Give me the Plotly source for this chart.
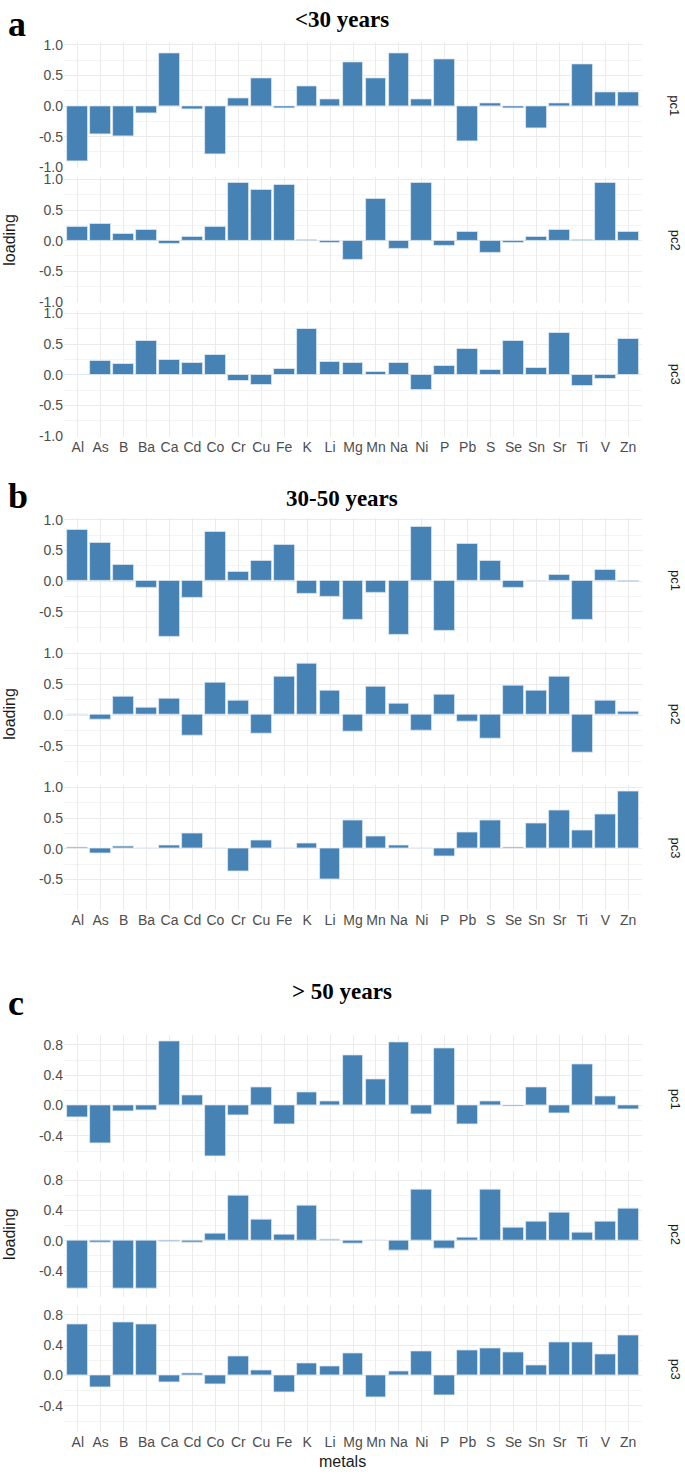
import plotly.graph_objects as go

W, H = 685, 1479

metals = ["Al", "As", "B", "Ba", "Ca", "Cd", "Co", "Cr", "Cu", "Fe", "K", "Li", "Mg",
          "Mn", "Na", "Ni", "P", "Pb", "S", "Se", "Sn", "Sr", "Ti", "V", "Zn"]

# Panel a: <30 years
a_pc1 = [-0.91, -0.46, -0.49, -0.11, 0.87, -0.05, -0.79, 0.12, 0.45, -0.03, 0.33, 0.11, 0.72,
         0.46, 0.87, 0.11, 0.76, -0.58, 0.04, -0.04, -0.36, 0.04, 0.69, 0.22, 0.23]
a_pc2 = [0.23, 0.27, 0.11, 0.18, -0.06, 0.06, 0.23, 0.95, 0.83, 0.91, 0.02, -0.03, -0.32,
         0.69, -0.13, 0.94, -0.09, 0.14, -0.20, -0.03, 0.07, 0.18, 0.02, 0.94, 0.14]
a_pc3 = [0.0, 0.23, 0.17, 0.56, 0.24, 0.20, 0.33, -0.10, -0.16, 0.09, 0.75, 0.21, 0.19,
         0.04, 0.19, -0.24, 0.14, 0.42, 0.08, 0.55, 0.11, 0.68, -0.18, -0.07, 0.59]

# Panel b: 30-50 years
b_pc1 = [0.84, 0.62, 0.26, -0.10, -0.90, -0.27, 0.81, 0.16, 0.34, 0.60, -0.20, -0.25, -0.62,
         -0.19, -0.87, 0.89, -0.81, 0.61, 0.33, -0.10, 0.015, 0.10, -0.62, 0.19, -0.005]
b_pc2 = [0.0, -0.08, 0.30, 0.12, 0.27, -0.34, 0.52, 0.23, -0.30, 0.63, 0.84, 0.39, -0.27,
         0.46, 0.19, -0.25, 0.34, -0.11, -0.38, 0.48, 0.39, 0.62, -0.61, 0.23, 0.06]
b_pc3 = [0.02, -0.08, 0.04, 0.0, 0.05, 0.25, 0.0, -0.37, 0.13, 0.005, 0.09, -0.49, 0.46,
         0.20, 0.06, 0.005, -0.13, 0.27, 0.46, 0.03, 0.42, 0.62, 0.30, 0.56, 0.94]

# Panel c: > 50 years
c_pc1 = [-0.16, -0.50, -0.075, -0.06, 0.85, 0.14, -0.67, -0.13, 0.24, -0.25, 0.18, 0.05, 0.66,
         0.34, 0.83, -0.11, 0.76, -0.245, 0.05, -0.01, 0.24, -0.10, 0.55, 0.12, -0.05]
c_pc2 = [-0.63, -0.03, -0.625, -0.63, -0.01, -0.03, 0.10, 0.60, 0.28, 0.08, 0.47, 0.02, -0.04,
         0.0, -0.13, 0.67, -0.10, 0.04, 0.67, 0.18, 0.25, 0.37, 0.11, 0.26, 0.42]
c_pc3 = [0.67, -0.15, 0.70, 0.68, -0.09, 0.025, -0.11, 0.26, 0.075, -0.22, 0.16, 0.12, 0.29,
         -0.29, 0.05, 0.32, -0.26, 0.335, 0.36, 0.31, 0.13, 0.435, 0.435, 0.28, 0.53]

titles = ["<30 years", "30-50 years", "> 50 years"]
letters = ["a", "b", "c"]
pcs = ["pc1", "pc2", "pc3"]

# layout geometry (pixel positions)
panels = [
    dict(vals=[a_pc1, a_pc2, a_pc3], zeros=[101, 236.7, 372], unit=61.7,
         rng=[-1.0135, 1.0435], ticks=[-1.0, -0.5, 0.0, 0.5, 1.0],
         minor=[-0.75, -0.25, 0.25, 0.75], title_y=14, letter_y=18),
    dict(vals=[b_pc1, b_pc2, b_pc3], zeros=[580.3, 715.3, 850.3], unit=62.0,
         rng=[-0.992, 1.032], ticks=[-0.5, 0.0, 0.5, 1.0],
         minor=[-0.75, -0.25, 0.25, 0.75], title_y=497, letter_y=494),
    dict(vals=[c_pc1, c_pc2, c_pc3], zeros=[1109.3, 1245.7, 1381.7], unit=76.5,
         rng=[-0.746, 0.926], ticks=[-0.4, 0.0, 0.4, 0.8],
         minor=[-0.6, -0.2, 0.2, 0.6], title_y=994, letter_y=1006),
]

X0, X1 = 64, 642
grid_major = "#ebebeb"
grid_minor = "#f4f4f4"
tick_col = "#4d4d4d"
font_sans = "Liberation Sans"

fig = go.Figure()
layout = dict(width=W, height=H, margin=dict(l=0, r=0, t=0, b=0),
              paper_bgcolor="white", plot_bgcolor="white", showlegend=False,
              bargap=0)
annotations = []

def py(p):
    return 1 - p / H

idx = 0
for pi, pan in enumerate(panels):
    mids = []
    for fi in range(3):
        idx += 1
        zero = pan["zeros"][fi]
        top = zero - pan["rng"][1] * pan["unit"]
        bot = zero - pan["rng"][0] * pan["unit"]
        mids.append((top + bot) / 2)
        xa = "xaxis" if idx == 1 else f"xaxis{idx}"
        ya = "yaxis" if idx == 1 else f"yaxis{idx}"
        xr = "x" if idx == 1 else f"x{idx}"
        yr = "y" if idx == 1 else f"y{idx}"
        fig.add_trace(go.Bar(x=metals, y=pan["vals"][fi], xaxis=xr, yaxis=yr,
                             width=0.9, marker=dict(color="#4682B4",
                             line=dict(color="#dfe9f3", width=0.8)),
                             hoverinfo="x+y"))
        layout[xa] = dict(domain=[X0 / W, X1 / W], anchor=yr, type="category",
                          categoryorder="array", categoryarray=metals,
                          range=[-0.6, len(metals) - 0.4],
                          showgrid=True, gridcolor=grid_major, gridwidth=1.3,
                          zeroline=False, showline=False, ticks="",
                          showticklabels=(fi == 2),
                          tickfont=dict(family=font_sans, size=14, color=tick_col))
        layout[ya] = dict(domain=[py(bot), py(top)], anchor=xr,
                          range=pan["rng"], tickvals=pan["ticks"],
                          ticktext=[f"{v:.1f}" for v in pan["ticks"]],
                          showgrid=True, gridcolor=grid_major, gridwidth=1.3,
                          zeroline=False, showline=False, ticks="",
                          minor=dict(tickvals=pan["minor"], showgrid=True,
                                     gridcolor=grid_minor, gridwidth=0.8),
                          tickfont=dict(family=font_sans, size=14, color=tick_col))
        annotations.append(dict(text=pcs[fi], x=675 / W, y=py((top + bot) / 2),
                                xref="paper", yref="paper", showarrow=False,
                                textangle=90, xanchor="center", yanchor="middle",
                                font=dict(family=font_sans, size=13, color="#1a1a1a")))
    # loading title
    annotations.append(dict(text="loading", x=10 / W, y=py(mids[1]), xref="paper",
                            yref="paper", showarrow=False, textangle=-90,
                            xanchor="center", yanchor="middle",
                            font=dict(family=font_sans, size=16, color="#1a1a1a")))
    # panel title
    annotations.append(dict(text="<b>" + titles[pi] + "</b>", x=342 / W,
                            y=py(pan["title_y"]), xref="paper", yref="paper",
                            showarrow=False, xanchor="center", yanchor="middle",
                            font=dict(family="Liberation Serif", size=23, color="black")))
    annotations.append(dict(text="<b>" + letters[pi] + "</b>", x=6 / W,
                            y=py(pan["letter_y"]), xref="paper", yref="paper",
                            showarrow=False, xanchor="left", yanchor="middle",
                            font=dict(family="Liberation Serif", size=36, color="black")))

annotations.append(dict(text="metals", x=342 / W, y=py(1468), xref="paper", yref="paper",
                        showarrow=False, xanchor="center", yanchor="middle",
                        font=dict(family=font_sans, size=16, color="#1a1a1a")))

layout["annotations"] = annotations
fig.update_layout(**layout)
fig.write_html("out.html", config={"displayModeBar": False},
               post_script="document.body.style.margin='0';document.body.style.padding='0';")
